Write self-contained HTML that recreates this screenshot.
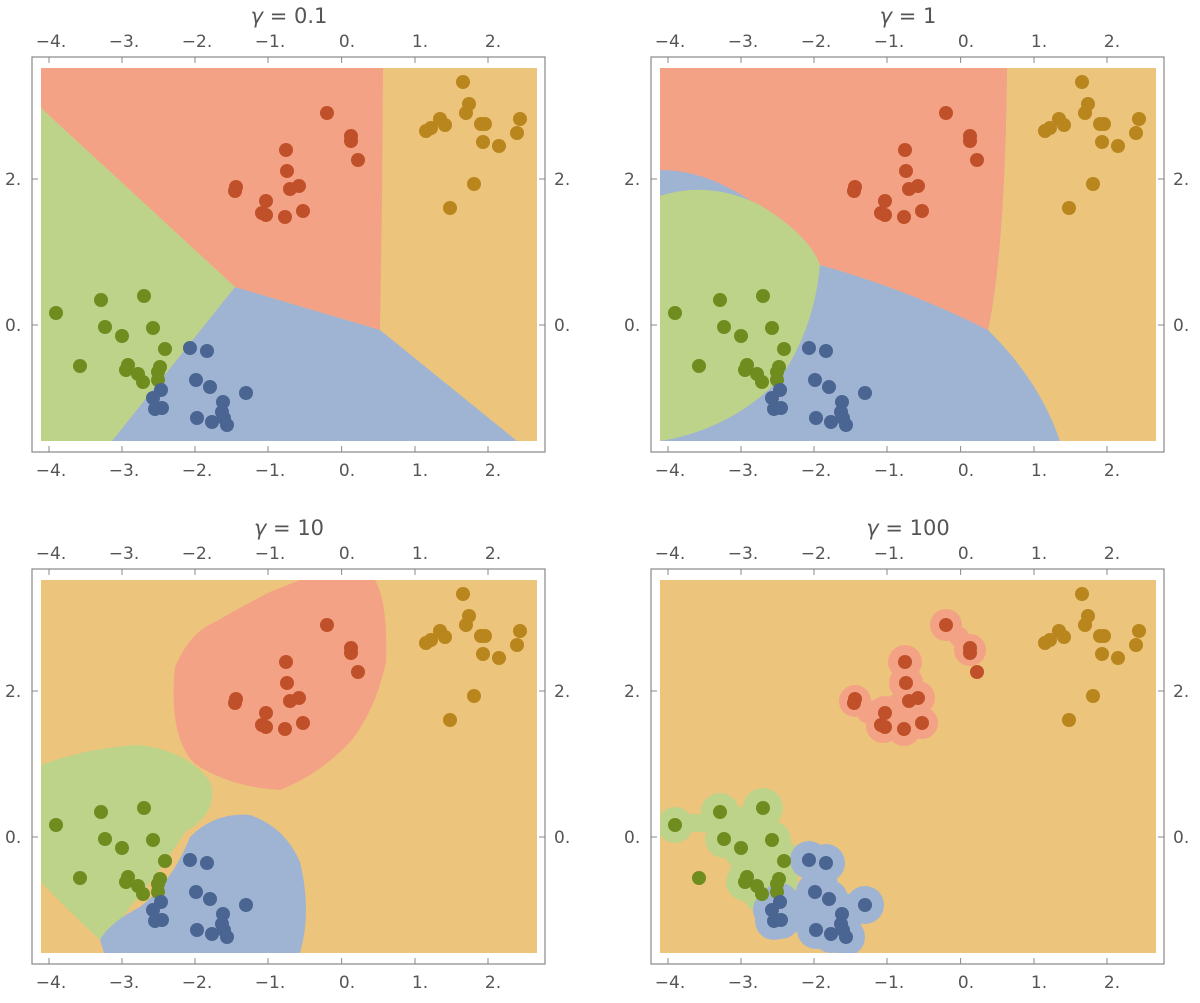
<!DOCTYPE html>
<html><head><meta charset="utf-8"><style>
body{margin:0;background:#fff;}
text{font-family:"DejaVu Sans","Liberation Sans",sans-serif;fill:#555;}
</style></head><body>
<svg width="1200" height="998" xmlns="http://www.w3.org/2000/svg">
<defs>
<clipPath id="pc"><rect x="41" y="68" width="496" height="373"/></clipPath>
<g id="frame">
 <rect x="32" y="57" width="513" height="395" fill="none" stroke="#888" stroke-width="1.2"/>
 <g stroke="#888">
  <line x1="49" y1="57" x2="49" y2="63"/><line x1="122" y1="57" x2="122" y2="63"/><line x1="195" y1="57" x2="195" y2="63"/><line x1="268" y1="57" x2="268" y2="63"/><line x1="341.6" y1="57" x2="341.6" y2="63"/><line x1="415" y1="57" x2="415" y2="63"/><line x1="488" y1="57" x2="488" y2="63"/>
  <line x1="49" y1="452" x2="49" y2="446"/><line x1="122" y1="452" x2="122" y2="446"/><line x1="195" y1="452" x2="195" y2="446"/><line x1="268" y1="452" x2="268" y2="446"/><line x1="341.6" y1="452" x2="341.6" y2="446"/><line x1="415" y1="452" x2="415" y2="446"/><line x1="488" y1="452" x2="488" y2="446"/>
  <line x1="32" y1="179" x2="38" y2="179"/><line x1="32" y1="325" x2="38" y2="325"/>
  <line x1="545" y1="179" x2="539" y2="179"/><line x1="545" y1="325" x2="539" y2="325"/>
 </g>
 <g font-size="17" text-anchor="middle">
  <text x="51" y="47">−4.</text><text x="124" y="47">−3.</text><text x="197" y="47">−2.</text><text x="270" y="47">−1.</text><text x="347" y="47">0.</text><text x="420" y="47">1.</text><text x="493" y="47">2.</text>
  <text x="51" y="476">−4.</text><text x="124" y="476">−3.</text><text x="197" y="476">−2.</text><text x="270" y="476">−1.</text><text x="347" y="476">0.</text><text x="420" y="476">1.</text><text x="493" y="476">2.</text>
 </g>
 <g font-size="17">
  <text x="5" y="185">2.</text><text x="5" y="331">0.</text>
  <text x="554" y="185">2.</text><text x="554" y="331">0.</text>
 </g>
</g>
<g id="pts">
 <g fill="#c0502a">
  <circle cx="327" cy="113" r="7"/><circle cx="351" cy="136" r="7"/><circle cx="351" cy="141" r="7"/><circle cx="286" cy="150" r="7"/><circle cx="287" cy="171" r="7"/><circle cx="358" cy="160" r="7"/><circle cx="236" cy="187" r="7"/><circle cx="235" cy="191" r="7"/><circle cx="299" cy="186" r="7"/><circle cx="290" cy="189" r="7"/><circle cx="266" cy="201" r="7"/><circle cx="262" cy="213" r="7"/><circle cx="266" cy="215" r="7"/><circle cx="303" cy="211" r="7"/><circle cx="285" cy="217" r="7"/>
 </g>
 <g fill="#b8861c">
  <circle cx="463" cy="82" r="7"/><circle cx="469" cy="104" r="7"/><circle cx="466" cy="113" r="7"/><circle cx="426" cy="131" r="7"/><circle cx="440" cy="119" r="7"/><circle cx="445" cy="125" r="7"/><circle cx="431" cy="128" r="7"/><circle cx="481" cy="124" r="7"/><circle cx="485" cy="124" r="7"/><circle cx="483" cy="142" r="7"/><circle cx="499" cy="146" r="7"/><circle cx="517" cy="133" r="7"/><circle cx="520" cy="119" r="7"/><circle cx="474" cy="184" r="7"/><circle cx="450" cy="208" r="7"/>
 </g>
 <g fill="#6f8c1f">
  <circle cx="56" cy="313" r="7"/><circle cx="101" cy="300" r="7"/><circle cx="144" cy="296" r="7"/><circle cx="105" cy="327" r="7"/><circle cx="122" cy="336" r="7"/><circle cx="153" cy="328" r="7"/><circle cx="80" cy="366" r="7"/><circle cx="128" cy="365" r="7"/><circle cx="126" cy="370" r="7"/><circle cx="138" cy="374" r="7"/><circle cx="143" cy="382" r="7"/><circle cx="158" cy="380" r="7"/><circle cx="165" cy="349" r="7"/><circle cx="160" cy="367" r="7"/><circle cx="158" cy="372" r="7"/>
 </g>
 <g fill="#4a6591">
  <circle cx="190" cy="348" r="7"/><circle cx="207" cy="351" r="7"/><circle cx="196" cy="380" r="7"/><circle cx="210" cy="387" r="7"/><circle cx="246" cy="393" r="7"/><circle cx="223" cy="402" r="7"/><circle cx="161" cy="390" r="7"/><circle cx="153" cy="398" r="7"/><circle cx="155" cy="409" r="7"/><circle cx="162" cy="408" r="7"/><circle cx="197" cy="418" r="7"/><circle cx="212" cy="422" r="7"/><circle cx="222" cy="412" r="7"/><circle cx="224" cy="418" r="7"/><circle cx="227" cy="425" r="7"/>
 </g>
</g>
</defs>

<!-- Panel 1 -->
<g>
 <g clip-path="url(#pc)">
  <rect x="41" y="68" width="496" height="373" fill="#ecc47c"/>
  <polygon points="41,68 383,68 382,200 380,330 235,287 41,108" fill="#f4a285"/>
  <polygon points="41,108 235,287 112,441 41,441" fill="#bdd38a"/>
  <polygon points="235,287 380,330 517,441 112,441" fill="#9fb4d2"/>
 </g>
 <use href="#frame"/><use href="#pts"/>
 <text x="289" y="23" font-size="21" text-anchor="middle"><tspan font-style="italic">γ</tspan> = 0.1</text>
</g>

<!-- Panel 2 -->
<g transform="translate(619,0)">
 <g clip-path="url(#pc)">
  <rect x="41" y="68" width="496" height="373" fill="#ecc47c"/>
  <path d="M41,441 L41,68 L388,68 Q386,250 369,330 Q420,380 441,441 Z" fill="#9fb4d2"/>
  <path d="M41,170 Q120,170 201,265 Q290,290 369,330 Q386,250 388,68 L41,68 Z" fill="#f4a285"/>
  <path d="M41,196 Q90,180 141,205 Q190,235 201,265 Q195,330 160,380 Q110,430 41,441 Z" fill="#bdd38a"/>
 </g>
 <use href="#frame"/><use href="#pts"/>
 <text x="289" y="23" font-size="21" text-anchor="middle"><tspan font-style="italic">γ</tspan> = 1</text>
</g>

<!-- Panel 3 -->
<g transform="translate(0,512)">
 <g clip-path="url(#pc)">
  <rect x="41" y="68" width="496" height="373" fill="#ecc47c"/>
  <path d="M175,155 Q190,120 215,110 Q250,90 270,80 L300,68 L375,68 Q388,90 386,150 Q375,200 350,230 Q320,262 280,278 Q230,275 195,252 Q168,225 175,155 Z" fill="#f4a285"/>
  <path d="M41,253 Q90,235 140,233 Q190,240 210,270 Q220,300 185,320 Q160,360 130,395 Q110,425 100,428 Q70,400 41,370 Z" fill="#bdd38a"/>
  <path d="M100,428 L104,441 L300,441 Q312,400 300,350 Q285,315 250,303 Q215,300 190,325 Q172,370 140,395 Q110,410 100,428 Z" fill="#9fb4d2"/>
 </g>
 <use href="#frame"/><use href="#pts"/>
 <text x="289" y="23" font-size="21" text-anchor="middle"><tspan font-style="italic">γ</tspan> = 10</text>
</g>

<!-- Panel 4 -->
<g transform="translate(619,512)">
 <g clip-path="url(#pc)">
  <rect x="41" y="68" width="496" height="373" fill="#ecc47c"/>
  <g fill="#f4a285">
   <circle cx="327" cy="113" r="16"/><circle cx="351" cy="138" r="16"/><circle cx="286" cy="150" r="17"/><circle cx="287" cy="171" r="17"/><circle cx="236" cy="189" r="16"/><circle cx="299" cy="186" r="17"/><circle cx="290" cy="189" r="17"/><circle cx="266" cy="201" r="17"/><circle cx="264" cy="214" r="17"/><circle cx="303" cy="211" r="16"/><circle cx="285" cy="217" r="17"/><circle cx="280" cy="195" r="14"/><circle cx="250" cy="200" r="12"/><circle cx="340" cy="125" r="10"/>
  </g>
  <g fill="#bdd38a">
   <circle cx="56" cy="313" r="18"/><circle cx="101" cy="300" r="19"/><circle cx="144" cy="296" r="20"/><circle cx="105" cy="327" r="19"/><circle cx="122" cy="336" r="19"/><circle cx="153" cy="328" r="19"/><circle cx="128" cy="365" r="19"/><circle cx="126" cy="370" r="19"/><circle cx="138" cy="374" r="19"/><circle cx="143" cy="382" r="19"/><circle cx="158" cy="380" r="19"/><circle cx="165" cy="349" r="19"/><circle cx="160" cy="367" r="19"/><circle cx="158" cy="372" r="19"/>
   <path d="M90,300 L150,290 L172,340 L170,385 L130,385 L110,350 L110,320 Z"/>
   <rect x="60" y="302" width="40" height="18"/>
  </g>
  <g fill="#9fb4d2">
   <circle cx="190" cy="348" r="19"/><circle cx="207" cy="351" r="19"/><circle cx="196" cy="380" r="19"/><circle cx="210" cy="387" r="19"/><circle cx="246" cy="393" r="19"/><circle cx="223" cy="402" r="19"/><circle cx="161" cy="390" r="19"/><circle cx="153" cy="398" r="19"/><circle cx="155" cy="409" r="19"/><circle cx="162" cy="408" r="19"/><circle cx="197" cy="418" r="19"/><circle cx="212" cy="422" r="19"/><circle cx="222" cy="412" r="19"/><circle cx="224" cy="418" r="19"/><circle cx="227" cy="425" r="19"/>
   <path d="M180,345 L215,345 L220,380 L245,385 L230,420 L170,420 L160,395 L185,370 Z"/>
  </g>
 </g>
 <use href="#frame"/><use href="#pts"/>
 <text x="289" y="23" font-size="21" text-anchor="middle"><tspan font-style="italic">γ</tspan> = 100</text>
</g>
</svg>
</body></html>
